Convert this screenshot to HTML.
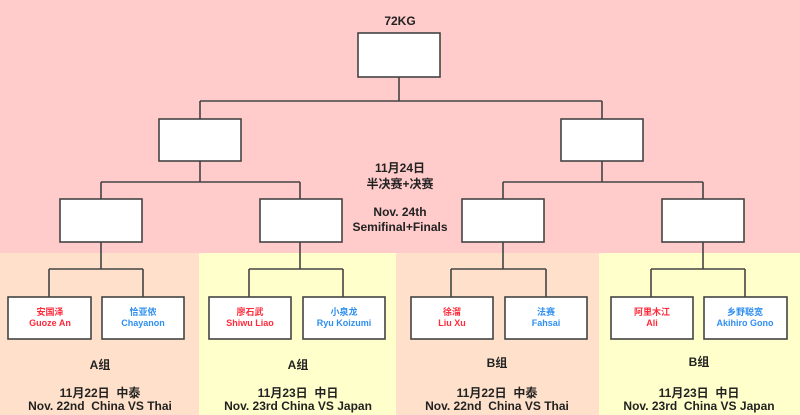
<!DOCTYPE html>
<html><head><meta charset="utf-8"><style>
html,body{margin:0;padding:0;}
body{width:800px;height:415px;position:relative;overflow:hidden;background:#ffcbcb;font-family:"Liberation Sans","Noto Sans CJK SC",sans-serif;font-weight:bold;}
.bg{position:absolute;top:253px;height:162px;}
.t{position:absolute;text-align:center;white-space:nowrap;color:#222;font-size:12px;line-height:14px;transform:translateX(-50%);}
.n{position:absolute;text-align:center;white-space:nowrap;font-size:9px;line-height:11px;transform:translateX(-50%);}
.r{color:#ff2a3a;}
.b{color:#2f8ff0;}
svg{position:absolute;left:0;top:0;}
</style></head><body>
<div class="bg" style="left:0;width:199px;background:#ffe1cb;"></div>
<div class="bg" style="left:199px;width:197px;background:#ffffcb;"></div>
<div class="bg" style="left:396px;width:203px;background:#ffe1cb;"></div>
<div class="bg" style="left:599px;width:201px;background:#ffffcb;"></div>

<svg width="800" height="415" viewBox="0 0 800 415">
<g fill="none" stroke="#444" stroke-width="1.6">
<path d="M399 77V101M200 101H602M200 101V119M602 101V119"/>
<path d="M200 161V182M602 161V182M101 182H300M503 182H703M101 182V199M300 182V199M503 182V199M703 182V199"/>
<path d="M101 242V269M300 242V269M503 242V269M703 242V269"/>
<path d="M49 269H143M249 269H343M451 269H546M651 269H745"/>
<path d="M49 269V297M143 269V297M249 269V297M343 269V297M451 269V297M546 269V297M651 269V297M745 269V297"/>
</g>
<g fill="#fff" stroke="#444" stroke-width="1.6">
<rect x="358" y="33" width="82" height="44"/>
<rect x="159" y="119" width="82" height="42"/>
<rect x="561" y="119" width="82" height="42"/>
<rect x="60" y="199" width="82" height="43"/>
<rect x="260" y="199" width="82" height="43"/>
<rect x="462" y="199" width="82" height="43"/>
<rect x="662" y="199" width="82" height="43"/>
<rect x="8" y="297" width="83" height="42"/>
<rect x="102" y="297" width="82" height="42"/>
<rect x="209" y="297" width="82" height="42"/>
<rect x="303" y="297" width="82" height="42"/>
<rect x="411" y="297" width="82" height="42"/>
<rect x="505" y="297" width="82" height="42"/>
<rect x="611" y="297" width="82" height="42"/>
<rect x="704" y="297" width="83" height="42"/>
</g>
</svg>

<div class="t" style="left:400px;top:14px;font-size:12px;">72KG</div>
<div class="t" style="left:400px;top:160px;line-height:16px;">11月24日<br>半决赛+决赛</div>
<div class="t" style="left:400px;top:205px;line-height:15px;">Nov. 24th<br>Semifinal+Finals</div>

<div class="n r" style="left:50px;top:307px;">安国泽<br>Guoze An</div>
<div class="n b" style="left:143px;top:307px;">恰亚侬<br>Chayanon</div>
<div class="n r" style="left:250px;top:307px;">廖石武<br>Shiwu Liao</div>
<div class="n b" style="left:344px;top:307px;">小泉龙<br>Ryu Koizumi</div>
<div class="n r" style="left:452px;top:307px;">徐溜<br>Liu Xu</div>
<div class="n b" style="left:546px;top:307px;">法赛<br>Fahsai</div>
<div class="n r" style="left:652px;top:307px;">阿里木江<br>Ali</div>
<div class="n b" style="left:745px;top:307px;">乡野聪宽<br>Akihiro Gono</div>

<div class="t" style="left:100px;top:358px;">A组</div>
<div class="t" style="left:298px;top:358px;">A组</div>
<div class="t" style="left:497px;top:356px;">B组</div>
<div class="t" style="left:699px;top:355px;">B组</div>

<div class="t" style="left:100px;top:387px;line-height:13px;">11月22日&nbsp;&nbsp;中泰<br>Nov. 22nd&nbsp; China VS Thai</div>
<div class="t" style="left:298px;top:387px;line-height:13px;">11月23日&nbsp;&nbsp;中日<br>Nov. 23rd China VS Japan</div>
<div class="t" style="left:497px;top:387px;line-height:13px;">11月22日&nbsp;&nbsp;中泰<br>Nov. 22nd&nbsp; China VS Thai</div>
<div class="t" style="left:699px;top:387px;line-height:13px;">11月23日&nbsp;&nbsp;中日<br>Nov. 23rd&nbsp; China VS Japan</div>
</body></html>
